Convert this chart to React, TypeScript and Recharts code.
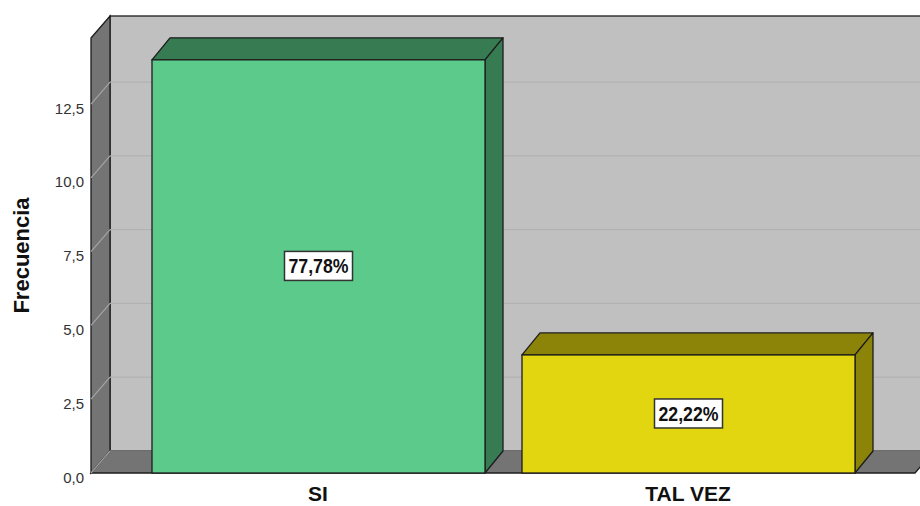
import { Bar, BarChart, LabelList, ReferenceArea, ReferenceLine, XAxis, YAxis } from 'recharts';

const categories = ['SI', 'TAL VEZ'];
const frequencies = [14, 4];
const percentLabels = ['77,78%', '22,22%'];
const yTicks = [0, 2.5, 5, 7.5, 10, 12.5];
const yMax = 14.74;

const frontColors = ['#5cca8a', '#e1d60f'];
const darkColors = ['#377b53', '#8c8309'];

const data = categories.map((name, i) => ({ name, value: frequencies[i], pct: percentLabels[i] }));

const X_PAD = 42;
const WALL_DX = 19;
const WALL_DY = 22;
const BAR_DX = 18;
const BAR_DY = 22;
const EDGE = '#1c1c1c';

const fmt = (v: number) => v.toFixed(1).replace('.', ',');

// walls + floor; the area spans the category range, so widen it by the axis padding
function Walls(props: any) {
  const x = props.x - X_PAD;
  const width = props.width + 2 * X_PAD;
  const { y, height } = props;
  const b = y + height;
  return (
    <g>
      <rect x={x + WALL_DX} y={y - WALL_DY} width={width} height={height} fill="#c0c0c0" stroke={EDGE} strokeWidth={1.3} />
      <polygon
        points={`${x},${y} ${x + WALL_DX},${y - WALL_DY} ${x + WALL_DX},${b - WALL_DY} ${x},${b}`}
        fill="#747474"
        stroke={EDGE}
        strokeWidth={1.3}
      />
      <polygon
        points={`${x},${b} ${x + WALL_DX},${b - WALL_DY} ${x + width + WALL_DX},${b - WALL_DY} ${x + width},${b}`}
        fill="#747474"
        stroke={EDGE}
        strokeWidth={1.3}
      />
    </g>
  );
}

function GridLine(props: any) {
  const { x1, y1, x2 } = props;
  return (
    <g>
      <line x1={x1} y1={y1} x2={x1 + WALL_DX} y2={y1 - WALL_DY} stroke="#a4a4a4" strokeWidth={1.2} />
      <line x1={x1 + WALL_DX} y1={y1 - WALL_DY} x2={x2 + WALL_DX} y2={y1 - WALL_DY} stroke="#b2b2b2" strokeWidth={1.2} />
    </g>
  );
}

function Box3D(props: any) {
  const { x, y, width, height, index } = props;
  const b = y + height;
  const r = x + width;
  return (
    <g>
      <polygon
        points={`${x},${y} ${x + BAR_DX},${y - BAR_DY} ${r + BAR_DX},${y - BAR_DY} ${r},${y}`}
        fill={darkColors[index]}
        stroke={EDGE}
        strokeWidth={1.3}
        strokeLinejoin="round"
      />
      <polygon
        points={`${r},${y} ${r + BAR_DX},${y - BAR_DY} ${r + BAR_DX},${b - BAR_DY} ${r},${b}`}
        fill={darkColors[index]}
        stroke={EDGE}
        strokeWidth={1.3}
        strokeLinejoin="round"
      />
      <rect x={x} y={y} width={width} height={height} fill={frontColors[index]} stroke={EDGE} strokeWidth={1.3} />
    </g>
  );
}

function PctLabel(props: any) {
  const { x, y, width, height, value } = props;
  const cx = x + width / 2;
  const cy = y + height / 2;
  return (
    <g>
      <rect x={cx - 34} y={cy - 15} width={68} height={29} fill="#ffffff" stroke="#333333" strokeWidth={1.5} />
      <text
        x={cx}
        y={cy + 7}
        textAnchor="middle"
        fontFamily="Liberation Sans, Arial, sans-serif"
        fontWeight="bold"
        fontSize={20}
        fill="#111111"
        textLength={60}
        lengthAdjust="spacingAndGlyphs"
      >
        {value}
      </text>
    </g>
  );
}

function YTick(props: any) {
  const { y, payload } = props;
  return (
    <text x={84} y={y + 9.5} textAnchor="end" fontFamily="Liberation Sans, Arial, sans-serif" fontSize={15} fill="#333333">
      {fmt(payload.value)}
    </text>
  );
}

function XTick(props: any) {
  const { x, payload } = props;
  return (
    <text x={x} y={501} textAnchor="middle" fontFamily="Liberation Sans, Arial, sans-serif" fontWeight="bold" fontSize={21} fill="#111111">
      {payload.value}
    </text>
  );
}

function YTitle(props: any) {
  const { viewBox } = props;
  const cy = viewBox.y + viewBox.height / 2;
  return (
    <text
      transform={`translate(29, ${cy}) rotate(-90)`}
      textAnchor="middle"
      fontFamily="Liberation Sans, Arial, sans-serif"
      fontWeight="bold"
      fontSize={22}
      fill="#111111"
    >
      Frecuencia
    </text>
  );
}

export default function App() {
  return (
    <div style={{ position: 'absolute', left: 0, top: 0, width: 920, height: 506, background: '#ffffff' }}>
      <BarChart width={920} height={506} data={data} margin={{ top: 38, right: 5, bottom: 0, left: 0 }} barSize={333}>
        <XAxis
          dataKey="name"
          height={33}
          axisLine={false}
          tickLine={false}
          padding={{ left: X_PAD, right: X_PAD }}
          tick={<XTick />}
        />
        <YAxis
          width={91}
          domain={[0, yMax]}
          ticks={yTicks}
          axisLine={false}
          tickLine={false}
          tick={<YTick />}
          label={<YTitle />}
        />
        <ReferenceArea y1={0} y2={yMax} shape={<Walls />} ifOverflow="visible" zIndex={-200} />
        {yTicks.map((t) => (
          <ReferenceLine key={t} y={t} shape={<GridLine />} ifOverflow="visible" zIndex={-150} />
        ))}
        <Bar dataKey="value" isAnimationActive={false} shape={<Box3D />}>
          <LabelList dataKey="pct" content={<PctLabel />} />
        </Bar>
      </BarChart>
    </div>
  );
}
